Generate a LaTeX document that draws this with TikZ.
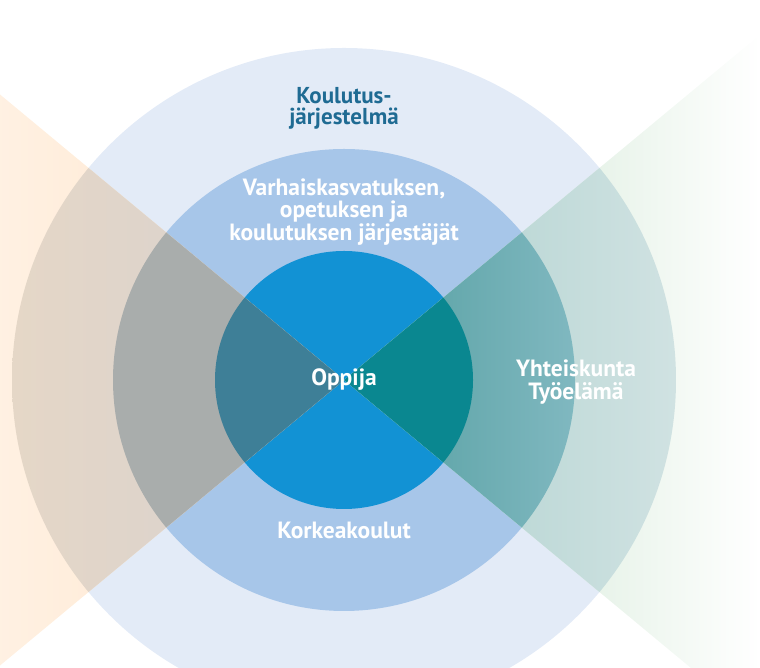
\documentclass[tikz,border=0pt]{standalone}
\usepackage{fontspec}
\setsansfont{PT Sans}
\usetikzlibrary{positioning}

\definecolor{outerblue}{HTML}{E3EBF7}
\definecolor{midblue}{HTML}{A7C6E9}
\definecolor{coreblue}{HTML}{1292D4}
\definecolor{titleblue}{HTML}{1F6B93}

\tikzset{
  ringtext/.style={text=white, font=\sffamily\bfseries\fontsize{23.5}{22.5}\selectfont, align=center, inner sep=0pt},
  toptext/.style={ringtext, text=titleblue, font=\sffamily\bfseries\fontsize{23}{21}\selectfont}
}

\begin{document}
\begin{tikzpicture}[x=1pt,y=1pt]
	\useasboundingbox (0,0) rectangle (760,668);
	\coordinate (c) at (344,288);
	% circles
	\fill[outerblue] (c) circle (332);
	\fill[midblue] (c) circle (231);
	\fill[coreblue] (c) circle (129);
	% left wedge
	\begin{scope}
	\clip (c) -- (-10,288+0.83*354) -- (-10,288-0.83*354) -- cycle;
	\shade[left color=orange!11!white, right color=orange!22!white] (-10,0) rectangle (344,668);
	\begin{scope}
	\clip (c) circle (332);
	\shade[left color={rgb,255:red,229;green,215;blue,199}, right color={rgb,255:red,220;green,211;blue,204}] (12,0) rectangle (200,668);
	\end{scope}
	\fill[fill={rgb,255:red,169;green,173;blue,172}] (c) circle (231);
	\fill[fill={rgb,255:red,62;green,127;blue,151}] (c) circle (129);
	\end{scope}
	% right wedge
	\begin{scope}
	\clip (c) -- (770,288+0.83*426) -- (770,288-0.83*426) -- cycle;
	\fill[fill={rgb,255:red,224;green,239;blue,226}] (344,0) rectangle (540,668);
	\shade[left color={rgb,255:red,224;green,239;blue,226}, right color=white] (540,0) rectangle (760,668);
	\begin{scope}
	\clip (c) circle (332);
	\shade[left color={rgb,255:red,188;green,216;blue,214}, right color={rgb,255:red,208;green,226;blue,226}] (500,0) rectangle (676,668);
	\end{scope}
	\begin{scope}
	\clip (c) circle (231);
	\shade[left color={rgb,255:red,100;green,168;blue,172}, right color={rgb,255:red,128;green,184;blue,192}] (440,0) rectangle (575,668);
	\end{scope}
	\fill[fill={rgb,255:red,10;green,135;blue,144}] (c) circle (129);
	\end{scope}
	% labels
	\node[toptext] (system) at (344,560) {Koulutus-\\järjestelmä};
	\node[ringtext] (providers) at (344,456) {Varhaiskasvatuksen,\\opetuksen ja\\koulutuksen järjestäjät};
	\node[ringtext] (learner) at (c) {Oppija};
	\node[ringtext] (society) at (576,286) {Yhteiskunta\\Työelämä};
	\node[ringtext] (higher) at (344,138) {Korkeakoulut};
\end{tikzpicture}
\end{document}
